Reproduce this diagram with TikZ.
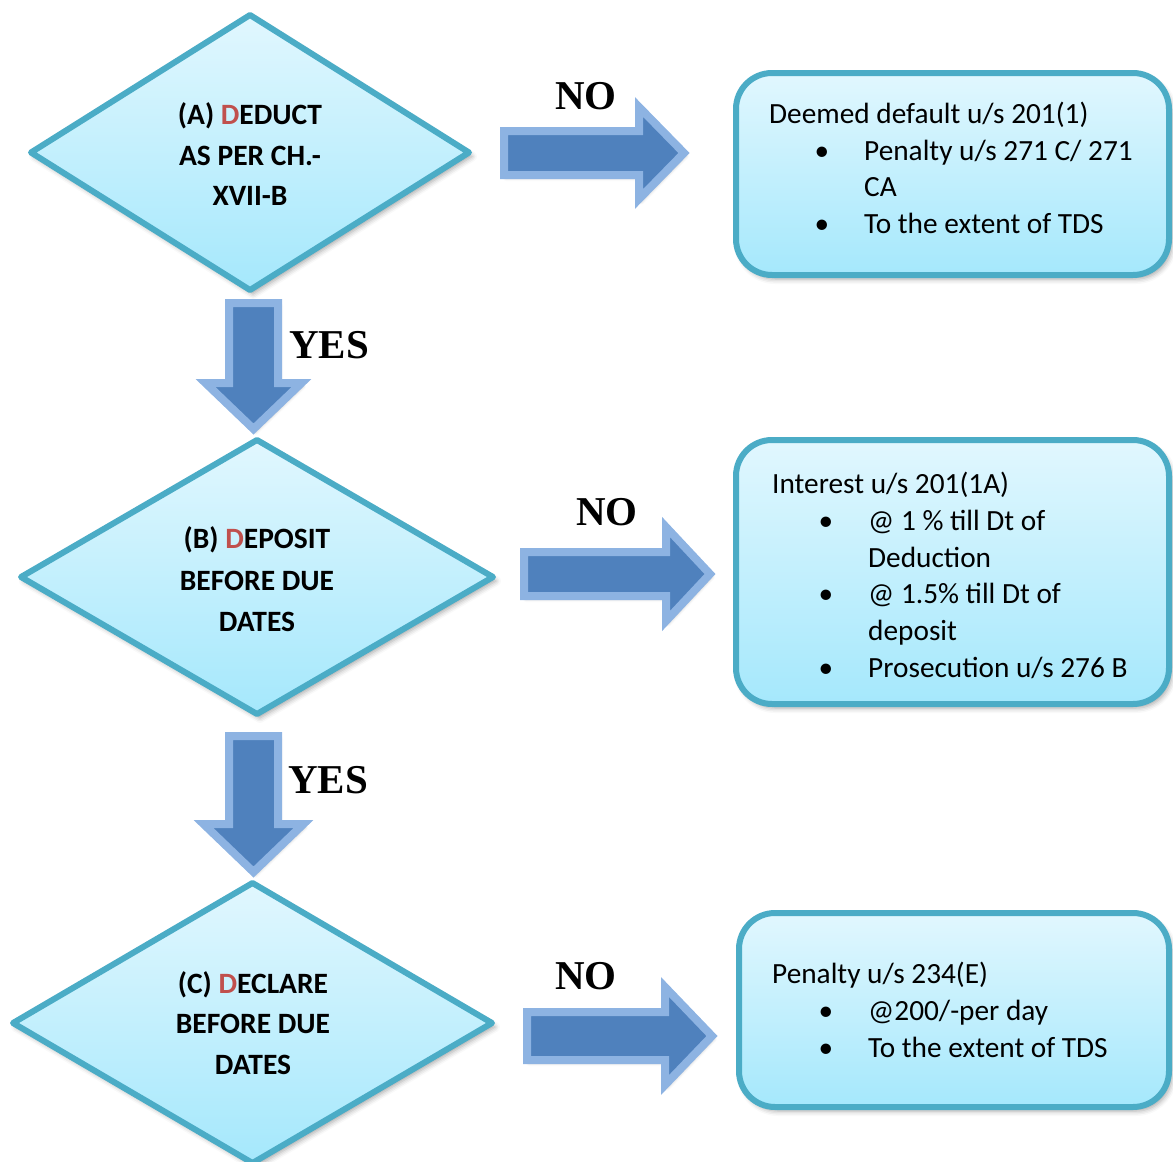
\documentclass[tikz,border=0pt]{standalone}
\usepackage{fontspec}
\setmainfont{Carlito}
\newfontfamily\tnr{Liberation Serif}
\usetikzlibrary{shapes.geometric,shadows.blur}
\definecolor{aqua}{HTML}{4BACC6}
\definecolor{topc}{HTML}{E1F7FE}
\definecolor{botc}{HTML}{A5E8FC}
\definecolor{arrfill}{HTML}{4F81BD}
\definecolor{arredge}{HTML}{8DB3E2}
\definecolor{redd}{HTML}{C0504D}
\tikzset{
  softshadow/.style={blur shadow={shadow blur radius=5pt, shadow xshift=3pt, shadow yshift=-4pt, shadow opacity=35}},
  decision/.style={diamond, draw=aqua, line width=6pt, line join=round, top color=topc, bottom color=botc, inner sep=0pt, outer sep=0pt, softshadow},
  outcome/.style={rectangle, rounded corners=36pt, draw=aqua, line width=6pt, top color=topc, bottom color=botc, inner sep=0pt, outer sep=0pt, softshadow},
  blockarrow/.style={fill=arrfill, draw=arredge, line width=8pt, line join=miter, blur shadow={shadow blur radius=3pt, shadow xshift=2pt, shadow yshift=-3pt, shadow opacity=25}},
  dtext/.style={font=\fontsize{29.5}{41}\selectfont\bfseries, anchor=base, inner sep=0pt},
  btext/.style={font=\fontsize{29.3}{37}\selectfont, anchor=base west, inner sep=0pt},
  bul/.style={font=\fontsize{29.3}{37}\selectfont, anchor=base, inner sep=0pt},
  yn/.style={font=\tnr\bfseries\fontsize{41}{41}\selectfont, inner sep=0pt},
}
% right block arrow: L, C, headx, tip, bodyhalf, headhalf
\newcommand\blockR[6]{%
  \draw[blockarrow] (#1,{#2-#5}) -- (#3,{#2-#5}) -- (#3,{#2-#6}) -- (#4,#2) -- (#3,{#2+#6}) -- (#3,{#2+#5}) -- (#1,{#2+#5}) -- cycle;}
% down block arrow: cx, top, heady, tip, bodyhalf, headhalf
\newcommand\blockD[6]{%
  \draw[blockarrow] ({#1-#5},#2) -- ({#1+#5},#2) -- ({#1+#5},#3) -- ({#1+#6},#3) -- (#1,#4) -- ({#1-#6},#3) -- ({#1-#5},#3) -- cycle;}
\begin{document}
\begin{tikzpicture}[x=1pt,y=-1pt]
\useasboundingbox (0,0) rectangle (1173,1162);
\clip (0,0) rectangle (1173,1162);

% decisions
\node[decision, minimum width=438pt, minimum height=275pt] (dA) at (250,152.5) {};
\node[decision, minimum width=472pt, minimum height=274pt] (dB) at (257,577) {};
\node[decision, minimum width=479pt, minimum height=280pt] (dC) at (252.5,1023) {};

% outcomes
\node[outcome, minimum width=433pt, minimum height=202pt] (bA) at (952.5,174) {};
\node[outcome, minimum width=433pt, minimum height=264pt] (bB) at (952.5,572) {};
\node[outcome, minimum width=430pt, minimum height=194pt] (bC) at (954,1010) {};

% block arrows
\blockR{504}{153}{639}{684}{22}{46}
\blockR{524}{574}{666}{710}{22}{47}
\blockR{527}{1036}{665}{712}{24}{49}
\blockD{253.5}{303}{383}{429}{24.5}{48}
\blockD{253.5}{736}{824}{872}{24.5}{50}

% labels
\node[yn] (noA) at (586,96) {NO};
\node[yn] (noB) at (607,512) {NO};
\node[yn] (noC) at (586,976) {NO};
\node[yn] (yesA) at (329,345) {YES};
\node[yn] (yesB) at (328,780) {YES};

% diamond texts
\node[dtext] (a1) at (250,124) {(A) \textcolor{redd}{D}EDUCT};
\node[dtext] (a2) at (250,165) {AS PER CH.-};
\node[dtext] (a3) at (250,205) {XVII-B};
\node[dtext] (b1) at (257,548) {(B) \textcolor{redd}{D}EPOSIT};
\node[dtext] (b2) at (257,590) {BEFORE DUE};
\node[dtext] (b3) at (257,631) {DATES};
\node[dtext] (c1) at (253,993) {(C) \textcolor{redd}{D}ECLARE};
\node[dtext] (c2) at (253,1033) {BEFORE DUE};
\node[dtext] (c3) at (253,1074) {DATES};

% box A texts
\node[btext] (ta0) at (769,123) {Deemed default u/s 201(1)};
\node[bul] (ua1) at (822,160) {•};
\node[btext] (ta1) at (864,160) {Penalty u/s 271 C/ 271};
\node[btext] (ta2) at (864,196) {CA};
\node[bul] (ua3) at (822,233) {•};
\node[btext] (ta3) at (864,233) {To the extent of TDS};

% box B texts
\node[btext] (tb0) at (772,493) {Interest u/s 201(1A)};
\node[bul] (ub1) at (826,530) {•};
\node[btext] (tb1) at (868,530) {@ 1 \% till Dt of};
\node[btext] (tb2) at (868,567) {Deduction};
\node[bul] (ub3) at (826,603) {•};
\node[btext] (tb3) at (868,603) {@ 1.5\% till Dt of};
\node[btext] (tb4) at (868,640) {deposit};
\node[bul] (ub5) at (826,677) {•};
\node[btext] (tb5) at (868,677) {Prosecution u/s 276 B};

% box C texts
\node[btext] (tc0) at (772,983) {Penalty u/s 234(E)};
\node[bul] (uc1) at (826,1020) {•};
\node[btext] (tc1) at (868,1020) {@200/-per day};
\node[bul] (uc2) at (826,1057) {•};
\node[btext] (tc2) at (868,1057) {To the extent of TDS};
\end{tikzpicture}
\end{document}
